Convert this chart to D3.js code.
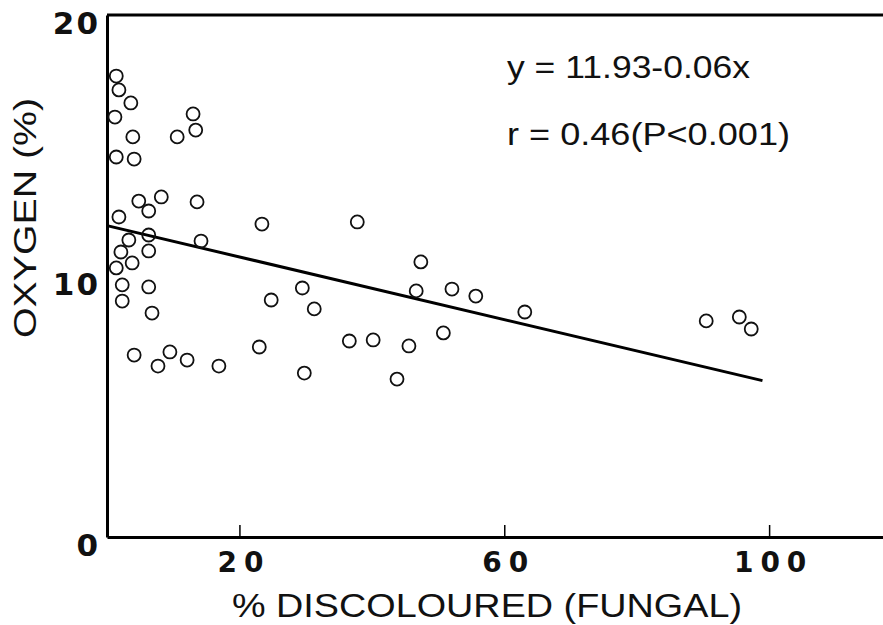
<!DOCTYPE html>
<html>
<head>
<meta charset="utf-8">
<script src="https://cdn.jsdelivr.net/npm/d3@7"></script>
<style>
  body { margin: 0; background: #fff; }
  svg { display: block; }
</style>
</head>
<body>
<div id="chart"></div>
<script>
// % discoloured (fungal) vs oxygen (%)
var discoloured = [1.4, 1.8, 3.6, 1.2, 3.9, 13.0, 13.4, 10.6, 1.4, 4.1,
    4.8, 8.2, 6.3, 13.6, 1.8, 6.3, 3.3, 14.2, 2.1, 6.3,
    3.8, 1.4, 2.3, 6.3, 2.3, 6.8, 4.1, 9.5, 7.7, 12.1,
    16.9, 23.4, 37.8, 24.8, 29.5, 31.3, 23.0, 36.6, 40.2, 29.8,
    43.8, 47.4, 46.7, 52.1, 55.7, 63.1, 50.8, 45.6, 90.5, 95.5, 97.3]
var oxygen = [17.66, 17.13, 16.63, 16.09, 15.33, 16.21, 15.59, 15.33, 14.56, 14.48,
    12.87, 13.03, 12.49, 12.84, 12.26, 11.57, 11.38, 11.34, 10.92, 10.96,
    10.50, 10.31, 9.66, 9.58, 9.04, 8.58, 6.97, 7.09, 6.55, 6.78,
    6.55, 11.99, 12.07, 9.08, 9.54, 8.74, 7.28, 7.51, 7.55, 6.28,
    6.05, 10.54, 9.43, 9.50, 9.23, 8.62, 7.82, 7.32, 8.28, 8.43, 7.97]

var xTicks = [20, 60, 100]
var yTicks = [0, 10, 20]

// fitted line  y = 11.93 - 0.06x, drawn over x 0..100
var intercept = 11.93
var slope = -0.06
var fitRange = [0, 99]

var eqLines = ['y = 11.93-0.06x', 'r = 0.46(P<0.001)']

function make_chart(){

    var W = 883, H = 625
    var plotLeft = 107, plotTop = 15, plotBottom = 537

    var svg = d3.select('#chart').append('svg')
        .attr('width', W).attr('height', H)

    var xscale = d3.scaleLinear().domain([0, 117.2]).range([plotLeft, W])
    var yscale = d3.scaleLinear().domain([0, 20]).range([plotBottom, plotTop])

    // x axis, ticks point up into the plot
    var xaxis = d3.axisBottom(xscale)
        .tickValues(xTicks)
        .tickSizeInner(-12)
        .tickSizeOuter(0)
        .tickPadding(15)

    var gx = svg.append('g')
        .attr('transform', 'translate(0,' + plotBottom + ')')
        .call(xaxis)
    gx.select('.domain').attr('stroke-width', 3)
    gx.selectAll('.tick line').attr('stroke-width', 1.5)
    gx.selectAll('.tick text')
        .attr('font-family', '"DejaVu Sans", sans-serif')
        .attr('font-weight', 'bold')
        .attr('font-size', 28)
        .attr('letter-spacing', 7)
        .attr('dx', 4)
        .attr('fill', '#111')

    var yaxis = d3.axisLeft(yscale)
        .tickValues(yTicks)
        .tickSize(0)
        .tickPadding(7)

    var gy = svg.append('g')
        .attr('transform', 'translate(' + plotLeft + ',0)')
        .call(yaxis)
    gy.select('.domain').attr('stroke-width', 3)
    gy.selectAll('.tick text')
        .attr('font-family', '"DejaVu Sans", sans-serif')
        .attr('font-weight', 'bold')
        .attr('font-size', 31)
        .attr('letter-spacing', 2)
        .attr('dy', '0.6em')
        .attr('fill', '#111')

    // top frame line
    svg.append('line')
        .attr('x1', plotLeft).attr('x2', W)
        .attr('y1', yscale(20)).attr('y2', yscale(20))
        .attr('stroke', '#000')
        .attr('stroke-width', 3)

    // regression line
    var line = d3.line()
        .x(function(d){ return xscale(d) })
        .y(function(d){ return yscale(intercept + slope*d) })

    svg.append('path')
        .datum(fitRange)
        .attr('d', line)
        .attr('fill', 'none')
        .attr('stroke', '#000')
        .attr('stroke-width', 3)

    // points
    svg.append('g')
        .selectAll('circle')
        .data(d3.range(discoloured.length))
        .enter()
        .append('circle')
        .attr('cx', function(i){ return xscale(discoloured[i]) })
        .attr('cy', function(i){ return yscale(oxygen[i]) })
        .attr('r', 6.5)
        .attr('fill', 'none')
        .attr('stroke', '#111')
        .attr('stroke-width', 1.8)

    // equation text
    svg.append('g')
        .selectAll('text')
        .data(eqLines)
        .enter()
        .append('text')
        .attr('x', 507)
        .attr('y', function(d, i){ return 78 + i*67 })
        .attr('textLength', function(d, i){ return i == 0 ? 243 : 283 })
        .attr('lengthAdjust', 'spacingAndGlyphs')
        .attr('font-family', '"Liberation Sans", Arial, sans-serif')
        .attr('font-size', 31)
        .attr('fill', '#111')
        .text(function(d){ return d })

    // axis titles
    svg.append('text')
        .attr('x', 232)
        .attr('y', 617)
        .attr('textLength', 510)
        .attr('lengthAdjust', 'spacingAndGlyphs')
        .attr('font-family', '"Liberation Sans", Arial, sans-serif')
        .attr('font-size', 33)
        .attr('fill', '#111')
        .text('% DISCOLOURED (FUNGAL)')

    svg.append('text')
        .attr('transform', 'translate(36,338) rotate(-90)')
        .attr('textLength', 240)
        .attr('lengthAdjust', 'spacingAndGlyphs')
        .attr('font-family', '"Liberation Sans", Arial, sans-serif')
        .attr('font-size', 31)
        .attr('fill', '#111')
        .text('OXYGEN (%)')
}

make_chart()
</script>
</body>
</html>
